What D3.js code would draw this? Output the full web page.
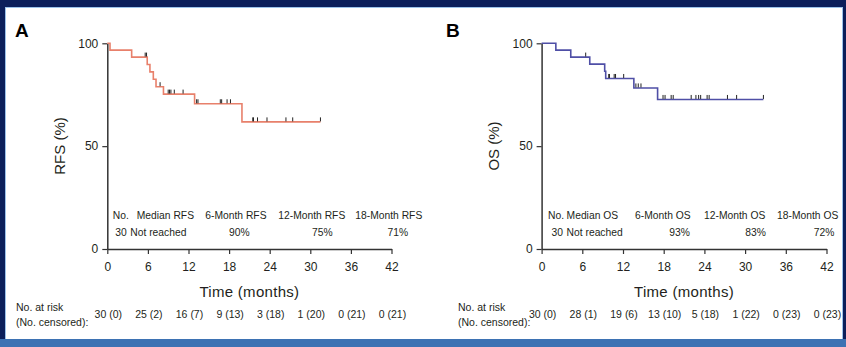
<!DOCTYPE html>
<html>
<head>
<meta charset="utf-8">
<script src="https://cdn.jsdelivr.net/npm/d3@7/dist/d3.min.js"></script>
<style>
  html, body { margin: 0; padding: 0; background: #0c1f5b; }
  svg { display: block; font-family: "Liberation Sans", Arial, sans-serif; }
</style>
</head>
<body>
<svg id="chart" width="846" height="347"></svg>
<script>
// ---- shared axis values ----
const timeTicks = [0, 6, 12, 18, 24, 30, 36, 42];
const pctTicks = [0, 50, 100];

// ---- Panel A: relapse-free survival ----
const rfsEventTimes = [0, 0.4, 3.6, 5.9, 6.3, 6.8, 7.2, 8.3, 12.9, 19.9];
const rfsSurvival   = [100, 96.7, 93.3, 89.7, 86.1, 82.5, 78.9, 75.3, 70.6, 61.8];
const rfsLastFollowUp = 31.5;
const rfsCensorTimes = [5.6, 5.8, 7.8, 9.0, 9.2, 9.4, 9.9, 11.2, 13.2, 13.4, 16.7, 16.9,
                        17.7, 18.2, 21.5, 21.6, 22.2, 23.6, 26.4, 27.4, 31.5];
const rfsAtRisk   = [30, 25, 16, 9, 3, 1, 0, 0];
const rfsCensored = [0, 2, 7, 13, 18, 20, 21, 21];
const rfsHeader = ["No.", "Median RFS", "6-Month RFS", "12-Month RFS", "18-Month RFS"];
const rfsValues = ["30", "Not reached", "90%", "75%", "71%"];

// ---- Panel B: overall survival ----
const osEventTimes = [0, 2.1, 4.3, 7.1, 9.3, 9.45, 13.6, 17.1];
const osSurvival   = [100, 96.7, 93.3, 89.9, 86.4, 82.9, 78.3, 72.7];
const osLastFollowUp = 32.7;
const osCensorTimes = [6.5, 9.9, 10.0, 10.7, 10.9, 12.1, 13.9, 14.25, 14.65, 17.9, 18.2, 19.1,
                       19.4, 22.05, 22.75, 23.15, 23.45, 24.4, 24.7, 27.4, 28.75, 32.7];
const osAtRisk   = [30, 28, 19, 13, 5, 1, 0, 0];
const osCensored = [0, 1, 6, 10, 18, 22, 23, 23];
const osHeader = ["No.", "Median OS", "6-Month OS", "12-Month OS", "18-Month OS"];
const osValues = ["30", "Not reached", "93%", "83%", "72%"];

const svg = d3.select("#chart");
const W = 846, H = 347;
const ink = "#231f20";

// frame
svg.append("rect").attr("x", 0).attr("y", 0).attr("width", W).attr("height", H).attr("fill", "#0c1f5b");
svg.append("rect").attr("x", 5.5).attr("y", 7.5).attr("width", 837).attr("height", 332)
  .attr("fill", "#ffffff").attr("stroke", "#9cc2ea").attr("stroke-width", 1);
svg.append("rect").attr("x", 0).attr("y", 339).attr("width", W).attr("height", 8).attr("fill", "#3d72b3");

function panel(cfg) {
  const g = svg.append("g");
  const x = d3.scaleLinear().domain([0, 42]).range([cfg.x0, cfg.x1]);
  const y = d3.scaleLinear().domain([0, 100]).range([249, 43.3]);

  // panel letter
  g.append("text").attr("x", cfg.letterX).attr("y", 37)
    .attr("font-size", 19).attr("font-weight", "bold").attr("fill", "#000").text(cfg.letter);

  // axes
  const yAxis = d3.axisLeft(y).tickValues(pctTicks).tickSize(5).tickPadding(4).tickSizeOuter(0);
  const xAxis = d3.axisBottom(x).tickValues(timeTicks).tickSize(5).tickPadding(8).tickSizeOuter(0);
  const ya = g.append("g").attr("transform", `translate(${cfg.x0},0)`).call(yAxis);
  const xa = g.append("g").attr("transform", `translate(0,249)`).call(xAxis);
  [ya, xa].forEach(a => {
    a.select(".domain").attr("stroke", "#333").attr("stroke-width", 1.5);
    a.selectAll(".tick line").attr("stroke", "#333").attr("stroke-width", 1.2);
    a.selectAll(".tick text").attr("fill", ink).attr("font-size", 12)
      .attr("font-family", "'Liberation Sans', Arial, sans-serif");
  });

  // axis titles
  g.append("text").attr("transform", `translate(${cfg.x0 - 48},146) rotate(-90)`)
    .attr("text-anchor", "middle").attr("dy", "0.35em").attr("font-size", 15).attr("fill", ink)
    .text(cfg.yTitle);
  g.append("text").attr("x", (cfg.x0 + cfg.x1) / 2).attr("y", 297)
    .attr("text-anchor", "middle").attr("font-size", 15).attr("letter-spacing", 0.3)
    .attr("fill", ink).text("Time (months)");

  // Kaplan-Meier step curve
  const pts = cfg.times.map((t, i) => [t, cfg.surv[i]]);
  pts.push([cfg.last, cfg.surv[cfg.surv.length - 1]]);
  const line = d3.line().x(d => x(d[0])).y(d => y(d[1])).curve(d3.curveStepAfter);
  g.append("path").datum(pts).attr("d", line).attr("fill", "none")
    .attr("stroke", cfg.color).attr("stroke-width", 1.6);

  // censor marks sit on the curve level at their time
  const survAt = t => {
    let s = cfg.surv[0];
    cfg.times.forEach((et, i) => { if (et <= t) s = cfg.surv[i]; });
    return s;
  };
  g.selectAll("line.cens").data(cfg.censor).join("line").attr("class", "cens")
    .attr("x1", d => x(d)).attr("x2", d => x(d))
    .attr("y1", d => y(survAt(d)) - 4.5).attr("y2", d => y(survAt(d)) - 0.5)
    .attr("stroke", "#222").attr("stroke-width", 1);

  // summary table inside plot
  cfg.header.forEach((h, i) => {
    g.append("text").attr("x", cfg.x0 + cfg.headerX[i]).attr("y", 219)
      .attr("font-size", 10.3).attr("fill", ink).text(h);
  });
  cfg.values.forEach((v, i) => {
    g.append("text").attr("x", cfg.x0 + cfg.valueX[i]).attr("y", 236)
      .attr("text-anchor", i < 2 ? "start" : "middle")
      .attr("font-size", 10.3).attr("fill", ink).text(v);
  });

  // number at risk
  g.append("text").attr("x", cfg.riskLabelX).attr("y", 310.5).attr("font-size", 10.5)
    .attr("fill", ink).text("No. at risk");
  g.append("text").attr("x", cfg.riskLabelX).attr("y", 325.5).attr("font-size", 10.5)
    .attr("fill", ink).text("(No. censored):");
  g.selectAll("text.risk").data(timeTicks).join("text").attr("class", "risk")
    .attr("x", d => x(d) + 1).attr("y", 318).attr("text-anchor", "middle")
    .attr("font-size", 10.5).attr("fill", ink)
    .text((d, i) => `${cfg.atRisk[i]} (${cfg.censCount[i]})`);
}

panel({
  letter: "A", letterX: 15, x0: 107.3, x1: 391.5, yTitle: "RFS (%)", color: "#e8806b",
  times: rfsEventTimes, surv: rfsSurvival, last: rfsLastFollowUp, censor: rfsCensorTimes,
  header: rfsHeader, values: rfsValues,
  headerX: [5.5, 29.5, 98, 171, 248], valueX: [8, 23, 132, 215, 290.5],
  riskLabelX: 16, atRisk: rfsAtRisk, censCount: rfsCensored
});

panel({
  letter: "B", letterX: 446, x0: 541.6, x1: 826.5, yTitle: "OS (%)", color: "#4f4fa6",
  times: osEventTimes, surv: osSurvival, last: osLastFollowUp, censor: osCensorTimes,
  header: osHeader, values: osValues,
  headerX: [6.5, 25, 93.5, 162.5, 235.5], valueX: [10, 25, 138, 214, 282.5],
  riskLabelX: 458, atRisk: osAtRisk, censCount: osCensored
});
</script>
</body>
</html>
